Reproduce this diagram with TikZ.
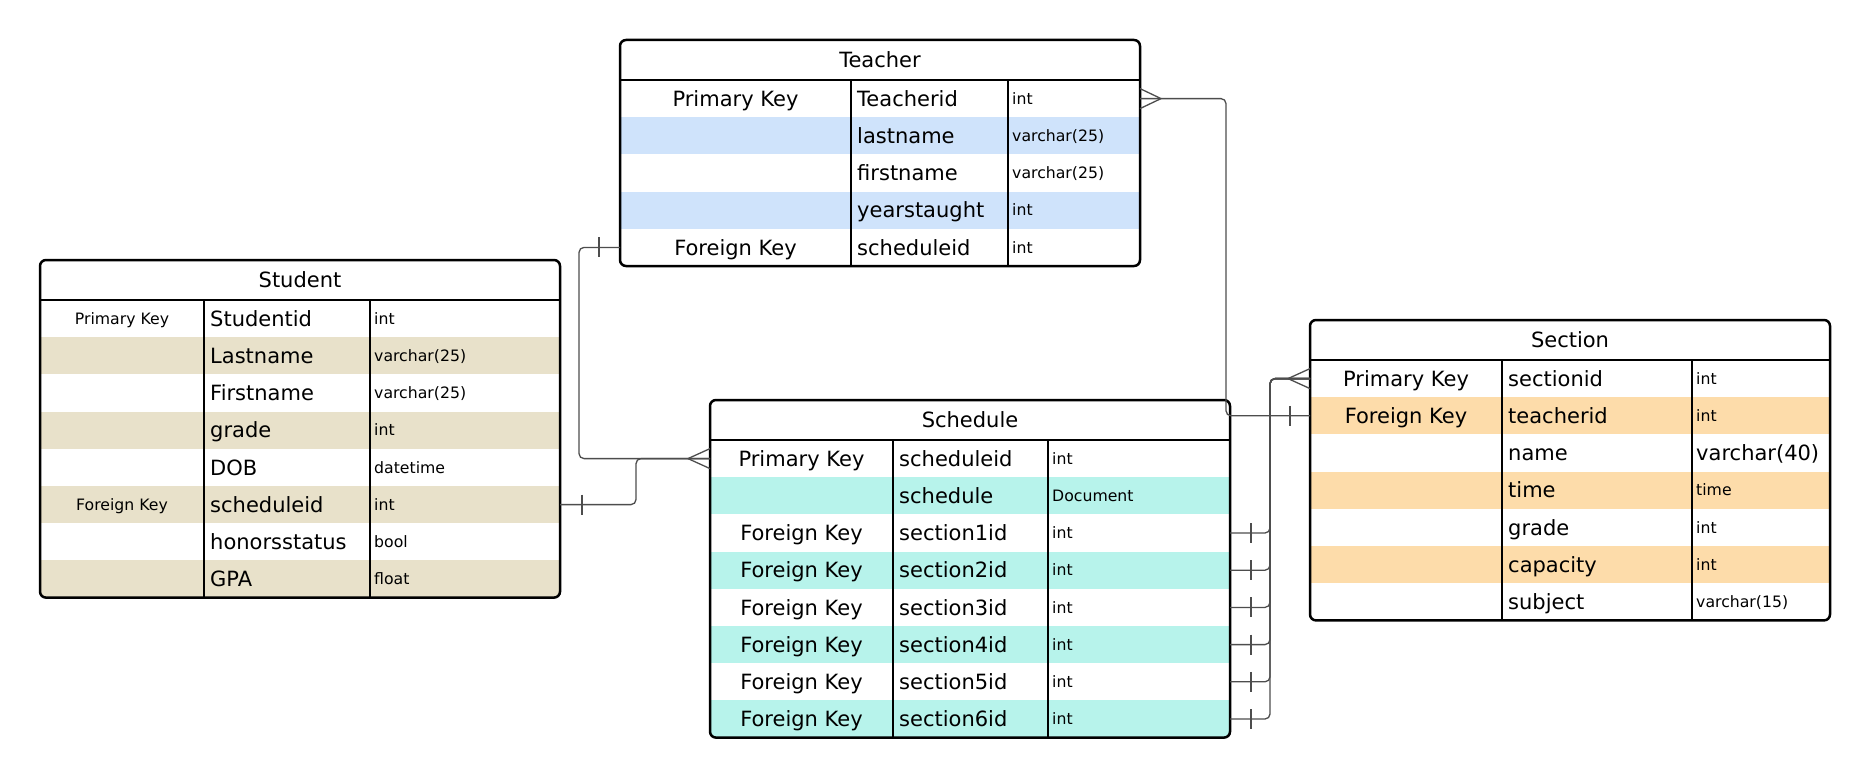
\documentclass[tikz,border=0pt]{standalone}
\usepackage{fontspec}
\setmainfont{DejaVu Sans}
\usetikzlibrary{calc}
\definecolor{tblue}{HTML}{CFE3FB}
\definecolor{sbeige}{HTML}{E8E1CA}
\definecolor{scyan}{HTML}{B7F3EB}
\definecolor{sorange}{HTML}{FDDCAA}
\definecolor{linegray}{HTML}{4D4D4D}
\tikzset{
  conn/.style={draw=linegray, line width=1.3pt, rounded corners=5pt},
  rowbox/.style={anchor=north west, minimum width=520pt, minimum height=37.2pt, inner sep=0pt, outer sep=0pt},
  bigtxt/.style={font=\fontsize{21}{24}\selectfont, inner sep=0pt, text height=15.3pt, text depth=0pt},
  smalltxt/.style={font=\fontsize{15.7}{18}\selectfont, inner sep=0pt, text height=11.4pt, text depth=0pt},
  frame/.style={draw=black, line width=2.5pt, rounded corners=6pt},
  sep/.style={draw=black, line width=2.5pt},
}
% #1 prefix, #2 x1, #3 y1, #4 c1, #5 c2, #6 nrows, #7 stripe colour, #8 key style, #9 title
\newcommand\ertable[9]{%
  \pgfmathsetmacro\erxr{#2+520}%
  \pgfmathsetmacro\eryh{#3+40}%
  \pgfmathsetmacro\eryb{#3+40+37.2*#6}%
  \pgfmathsetmacro\erkx{(#2+#4)/2}%
  \pgfmathsetmacro\erfx{#4+6}%
  \pgfmathsetmacro\ertx{#5+4}%
  \tikzset{erkey/.style={#8}}%
  \begin{scope}
    \clip[rounded corners=6pt] (#2,#3) rectangle (\erxr,\eryb);
    \foreach \i in {1,...,#6} {%
      \ifodd\i\relax
        \node[rowbox] (#1-r\i) at (#2,{\eryh+37.2*(\i-1)}) {};
      \else
        \node[rowbox,fill=#7] (#1-r\i) at (#2,{\eryh+37.2*(\i-1)}) {};
      \fi
    }
  \end{scope}
  \node[bigtxt] (#1-title) at ({(#2+\erxr)/2},{#3+20}) {#9};
  \draw[sep] (#2,\eryh) -- (\erxr,\eryh);
  \draw[sep] (#4,\eryh) -- (#4,\eryb);
  \draw[sep] (#5,\eryh) -- (#5,\eryb);
  \draw[frame] (#2,#3) rectangle (\erxr,\eryb);
}
% [#1 type style], #2 prefix, #3 row, #4 key, #5 field, #6 type
\newcommand\errow[6][smalltxt]{%
  \pgfmathsetmacro\eryc{\eryh+37.2*(#3-0.5)}%
  \def\erkeytext{#4}%
  \ifx\erkeytext\empty\else\node[erkey] (#2-k#3) at (\erkx,\eryc) {#4};\fi
  \node[bigtxt,anchor=west] (#2-f#3) at (\erfx,\eryc) {#5};
  \node[#1,anchor=west] (#2-t#3) at (\ertx,\eryc) {#6};
}
\begin{document}
\begin{tikzpicture}[x=1pt,y=-1pt]
\useasboundingbox (0,0) rectangle (1870,776);
\fill[white] (0,0) rectangle (1870,776);

% Teacher
\ertable{T}{620}{40}{851}{1008}{5}{tblue}{bigtxt}{Teacher}
\errow{T}{1}{Primary Key}{Teacherid}{int}
\errow{T}{2}{}{lastname}{varchar(25)}
\errow{T}{3}{}{firstname}{varchar(25)}
\errow{T}{4}{}{yearstaught}{int}
\errow{T}{5}{Foreign Key}{scheduleid}{int}

% Student
\ertable{S}{40}{260}{204}{370}{8}{sbeige}{smalltxt}{Student}
\errow{S}{1}{Primary Key}{Studentid}{int}
\errow{S}{2}{}{Lastname}{varchar(25)}
\errow{S}{3}{}{Firstname}{varchar(25)}
\errow{S}{4}{}{grade}{int}
\errow{S}{5}{}{DOB}{datetime}
\errow{S}{6}{Foreign Key}{scheduleid}{int}
\errow{S}{7}{}{honorsstatus}{bool}
\errow{S}{8}{}{GPA}{float}

% Schedule
\ertable{Sch}{710}{400}{893}{1048}{8}{scyan}{bigtxt}{Schedule}
\errow{Sch}{1}{Primary Key}{scheduleid}{int}
\errow{Sch}{2}{}{schedule}{Document}
\errow{Sch}{3}{Foreign Key}{section1id}{int}
\errow{Sch}{4}{Foreign Key}{section2id}{int}
\errow{Sch}{5}{Foreign Key}{section3id}{int}
\errow{Sch}{6}{Foreign Key}{section4id}{int}
\errow{Sch}{7}{Foreign Key}{section5id}{int}
\errow{Sch}{8}{Foreign Key}{section6id}{int}

% Section
\ertable{Sec}{1310}{320}{1502}{1692}{7}{sorange}{bigtxt}{Section}
\errow{Sec}{1}{Primary Key}{sectionid}{int}
\errow{Sec}{2}{Foreign Key}{teacherid}{int}
\errow[bigtxt]{Sec}{3}{}{name}{varchar(40)}
\errow{Sec}{4}{}{time}{time}
\errow{Sec}{5}{}{grade}{int}
\errow{Sec}{6}{}{capacity}{int}
\errow{Sec}{7}{}{subject}{varchar(15)}

% Teacher.Teacherid (many) -- Section.teacherid (one)
\draw[conn] (T-r1.east) -- ++(86,0) |- (Sec-r2.west);
\draw[conn] ($(T-r1.east)+(21,0)$) -- ($(T-r1.east)+(0,-10)$);
\draw[conn] ($(T-r1.east)+(21,0)$) -- ($(T-r1.east)+(0,10)$);
\draw[conn] ($(Sec-r2.west)+(-20,-10)$) -- ++(0,20);

% Teacher.scheduleid (one) -- Schedule.scheduleid (many)
\draw[conn] (T-r5.west) -- ++(-41,0) |- (Sch-r1.west);
\draw[conn] ($(T-r5.west)+(-21,-10)$) -- ++(0,20);
\draw[conn] ($(Sch-r1.west)+(-22,0)$) -- ($(Sch-r1.west)+(0,-10)$);
\draw[conn] ($(Sch-r1.west)+(-22,0)$) -- ($(Sch-r1.west)+(0,10)$);

% Student.scheduleid (one) -- Schedule.scheduleid
\draw[conn] (S-r6.east) -- ++(76,0) |- (Sch-r1.west);
\draw[conn] ($(S-r6.east)+(22,-10)$) -- ++(0,20);

% Schedule.sectionNid (one) -- Section.sectionid (many)
\foreach \k in {3,...,8} {
  \draw[conn] (Sch-r\k.east) -- ++(40,0) |- (Sec-r1.west);
  \draw[conn] ($(Sch-r\k.east)+(21,-10)$) -- ++(0,20);
}
\draw[conn] ($(Sec-r1.west)+(-22,0)$) -- ($(Sec-r1.west)+(0,-10)$);
\draw[conn] ($(Sec-r1.west)+(-22,0)$) -- ($(Sec-r1.west)+(0,10)$);
\end{tikzpicture}
\end{document}
